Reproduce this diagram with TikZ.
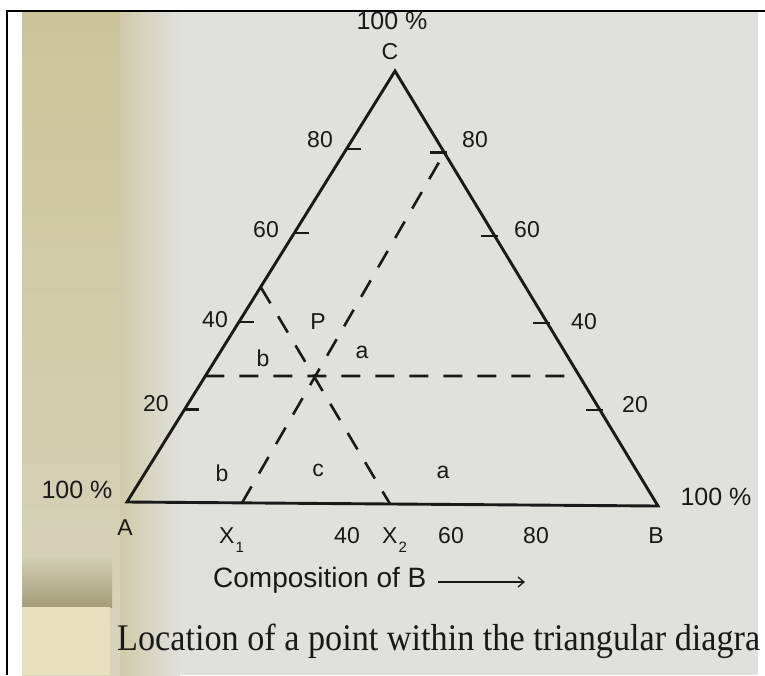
\documentclass[tikz,border=0pt]{standalone}
\usepackage{fontspec}
\usepackage{graphicx}
\setmainfont{Liberation Serif}
\setsansfont{Liberation Sans}
\usetikzlibrary{arrows.meta,calc}
\definecolor{paper}{RGB}{224,224,220}
\definecolor{stain}{RGB}{204,196,152}
\definecolor{patch}{RGB}{234,224,192}
\definecolor{ink}{RGB}{25,25,25}

\begin{document}
\begin{tikzpicture}[
  x=1pt, y=-1pt,
  side/.style={ink, line width=2.9pt, line join=miter},
  tick/.style={ink, line width=2.6pt},
  guide/.style={ink, line width=2.6pt, dash pattern=on 19pt off 15pt},
  lbl/.style={text=ink, inner sep=0pt, font=\sffamily\fontsize{23}{25}\selectfont},
  pct/.style={lbl, font=\sffamily\fontsize{25}{27}\selectfont},
]
  \useasboundingbox (0,0) rectangle (765,675);
  % page photo
  \fill[white] (0,0) rectangle (765,675);
  \fill[paper] (22,12) rectangle (758,675);
  \shade[top color=stain, bottom color=stain!45!paper] (22,12) rectangle (120,675);
  \shade[left color=stain!75!paper, right color=paper] (120,12) rectangle (180,675);
  \shade[top color=stain!55!paper, bottom color=stain!80!black] (22,555) rectangle (112,607);
  \fill[patch] (22,607) rectangle (110,675);
  \draw[black, line width=2pt] (7,675) -- (7,11) -- (765,11);

  % triangle
  \coordinate (A) at (127,502);
  \coordinate (B) at (658,506);
  \coordinate (C) at (395,71);
  \draw[side] (A) -- (B) -- (C) -- cycle;

  % scale ticks
  \foreach \v/\fl/\fr in {20/0.214/0.221, 40/0.418/0.421, 60/0.624/0.621, 80/0.819/0.812} {
    \coordinate (L\v) at ($(A)!\fl!(C)$);
    \coordinate (R\v) at ($(B)!\fr!(C)$);
    \draw[tick] (L\v) -- ++(15,0);
    \draw[tick] ($(R\v)+(3,0)$) -- ++(-17,0);
  }
  \node[lbl] (l80) at (320,140) {80};
  \node[lbl] (l60) at (266,230) {60};
  \node[lbl] (l40) at (215,320) {40};
  \node[lbl] (l20) at (156,404) {20};
  \node[lbl] (r80) at (475,140) {80};
  \node[lbl] (r60) at (527,230) {60};
  \node[lbl] (r40) at (584,322) {40};
  \node[lbl] (r20) at (635,405) {20};

  % construction lines through P
  \coordinate (Lh) at ($(A)!0.2923!(C)$);
  \coordinate (Rh) at ($(B)!0.2989!(C)$);
  \coordinate (Lb) at ($(A)!0.4988!(C)$);
  \coordinate (X1) at ($(A)!0.2166!(B)$);
  \coordinate (X2) at ($(A)!0.4953!(B)$);
  \draw[guide] (Lh) -- (Rh);
  \draw[guide] (X1) -- (R80);
  \draw[guide] (Lb) -- (X2);

  \node[lbl] (P) at (318,322) {P};
  \node[lbl] (b1) at (263,358) {b};
  \node[lbl] (a1) at (362,352) {a};
  \node[lbl] (b2) at (222,473) {b};
  \node[lbl] (c) at (318,470) {c};
  \node[lbl] (a2) at (443,472) {a};

  % corners
  \node[pct] (top) at (392,21) {100 \%};
  \node[lbl] (Cn) at (390,52) {C};
  \node[pct] (left) at (77,490) {100 \%};
  \node[pct] (right) at (716,497) {100 \%};

  % base axis
  \node[lbl, anchor=base] (An) at (125,535) {A};
  \node[lbl, anchor=base west] (x1) at (219,543) {X\kern1pt\raisebox{-9pt}{\fontsize{15}{15}\selectfont 1}};
  \node[lbl, anchor=base] (b40) at (347,543) {40};
  \node[lbl, anchor=base west] (x2) at (382,543) {X\kern1pt\raisebox{-9pt}{\fontsize{15}{15}\selectfont 2}};
  \node[lbl, anchor=base] (b60) at (451,543) {60};
  \node[lbl, anchor=base] (b80) at (536,543) {80};
  \node[lbl, anchor=base] (Bn) at (656,543) {B};

  \node[lbl, anchor=base west, font=\sffamily\fontsize{28}{30}\selectfont] (comp) at (213,587) {Composition of B};
  \coordinate (ar0) at (438,582);
  \coordinate (ar1) at (525,582);
  \draw[ink, line width=1.3pt, -{Straight Barb[length=6pt,width=10pt]}] (ar0) -- (ar1);

  % caption, as far as the photo shows it
  \node[anchor=base west, inner sep=0pt, text=ink, font=\rmfamily\fontsize{34.2}{36}\selectfont] (cap) at (117,650) {\scalebox{1}[1.1]{Location of a point within the triangular diagra}};
\end{tikzpicture}
\end{document}
